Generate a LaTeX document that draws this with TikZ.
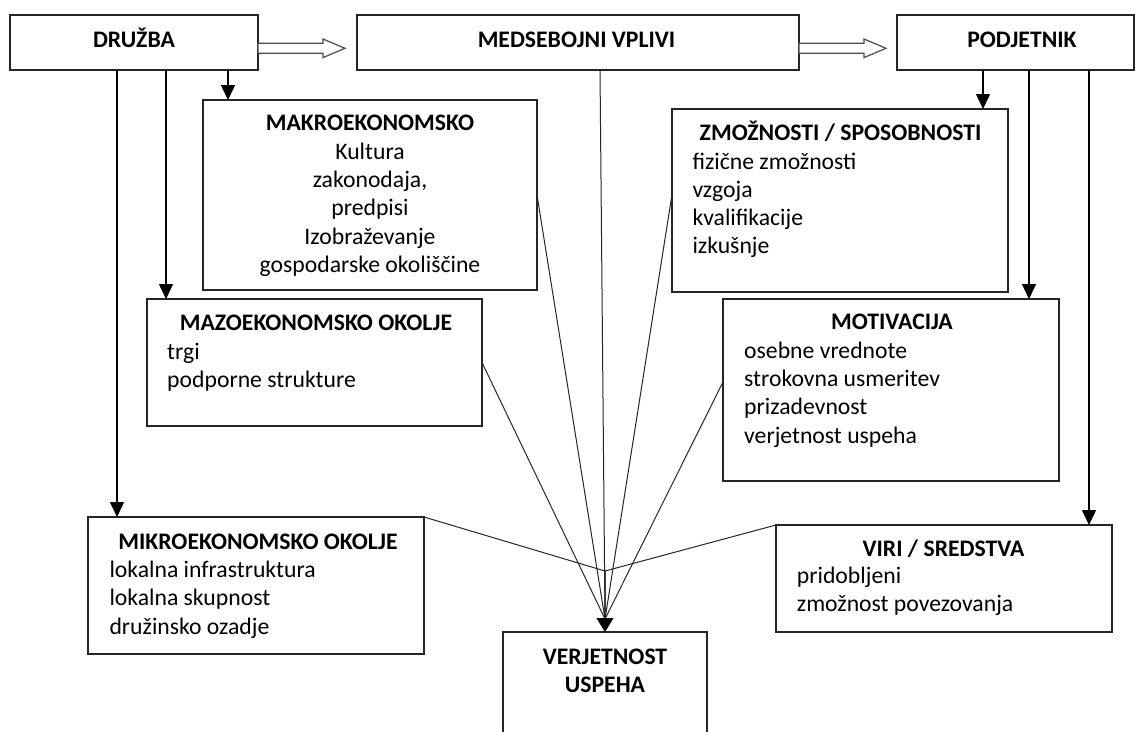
\documentclass[tikz,border=0pt]{standalone}
\usepackage{fontspec}
\setmainfont{Carlito}
\usetikzlibrary{arrows.meta,calc}
\begin{document}
\begin{tikzpicture}[x=1pt,y=-1pt,
  box/.style={draw=black!85, line width=1.3pt, rectangle, inner sep=0pt, outer sep=0pt, anchor=north west},
  head/.style={font=\fontsize{23.7}{28.3}\selectfont\bfseries, anchor=base, inner sep=0pt},
  line/.style={font=\fontsize{23.7}{28.3}\selectfont, anchor=base, inner sep=0pt},
  item/.style={font=\fontsize{23.7}{28.3}\selectfont, anchor=base west, inner sep=0pt},
  feed/.style={line width=1.5pt, -{Triangle[width=14pt,length=15pt]}},
  conv/.style={line width=1pt, draw=black!85},
  convtip/.style={line width=1pt, -{Triangle[width=17pt,length=14pt]}},
  hollow/.style={draw=black!70, line width=1.2pt, fill=white},
]
\useasboundingbox (0,0) rectangle (1135,731);

% boxes
\node[box, minimum width=248pt, minimum height=55pt]  (druzba) at (10,15) {};
\node[box, minimum width=442pt, minimum height=55pt]  (med)    at (357,15) {};
\node[box, minimum width=237pt, minimum height=55pt]  (podj)   at (897,15) {};
\node[box, minimum width=334pt, minimum height=190pt] (makro)  at (203,100) {};
\node[box, minimum width=335pt, minimum height=127pt] (mazo)   at (147,299) {};
\node[box, minimum width=336pt, minimum height=183pt] (zmoz)   at (672,109) {};
\node[box, minimum width=336pt, minimum height=182pt] (motiv)  at (723,299) {};
\node[box, minimum width=336pt, minimum height=137pt] (mikro)  at (88,517) {};
\node[box, minimum width=336pt, minimum height=107pt] (viri)   at (776,525) {};
\node[box, minimum width=204pt, minimum height=110pt] (verj)   at (503,632) {};

% top row texts
\node[head] (t-druzba) at (134,47.3)   {DRUŽBA};
\node[head] (t-med)    at (576.5,47.5) {MEDSEBOJNI VPLIVI};
\node[head] (t-podj)   at (1022,47.7)  {PODJETNIK};

% makroekonomsko
\node[head] (t-makro) at (370,130) {MAKROEKONOMSKO};
\node[line] (makro-1) at (370,159.3) {Kultura};
\node[line] (makro-2) at (370,187.6) {zakonodaja,};
\node[line] (makro-3) at (370,215.9) {predpisi};
\node[line] (makro-4) at (370,244.2) {Izobraževanje};
\node[line] (makro-5) at (370,272.5) {gospodarske okoliščine};

% mazoekonomsko okolje
\node[head] (t-mazo) at (316,330) {MAZOEKONOMSKO OKOLJE};
\node[item] (mazo-1) at (167,359) {trgi};
\node[item] (mazo-2) at (167,387.3) {podporne strukture};

% zmoznosti
\node[head] (t-zmoz) at (840.5,140) {ZMOŽNOSTI / SPOSOBNOSTI};
\node[item] (zmoz-1) at (692.3,169) {fizične zmožnosti};
\node[item] (zmoz-2) at (692.3,197.3) {vzgoja};
\node[item] (zmoz-3) at (692.3,225.6) {kvalifikacije};
\node[item] (zmoz-4) at (692.3,253.9) {izkušnje};

% motivacija
\node[head] (t-motiv) at (892,329.3) {MOTIVACIJA};
\node[item] (motiv-1) at (744,358.3) {osebne vrednote};
\node[item] (motiv-2) at (744,386.6) {strokovna usmeritev};
\node[item] (motiv-3) at (744,414.9) {prizadevnost};
\node[item] (motiv-4) at (744,443.2) {verjetnost uspeha};

% mikroekonomsko okolje
\node[head] (t-mikro) at (258,549.3) {MIKROEKONOMSKO OKOLJE};
\node[item] (mikro-1) at (109.3,577.5) {lokalna infrastruktura};
\node[item] (mikro-2) at (109.3,605.8) {lokalna skupnost};
\node[item] (mikro-3) at (109.3,634.1) {družinsko ozadje};

% viri
\node[head] (t-viri) at (943.5,556) {VIRI / SREDSTVA};
\node[item] (viri-1) at (796.7,583.5) {pridobljeni};
\node[item] (viri-2) at (796.7,611.8) {zmožnost povezovanja};

% result
\node[head] (t-verj1) at (605,664) {VERJETNOST};
\node[head] (t-verj2) at (605,692.7) {USPEHA};

% hollow arrows along the top row
\draw[hollow] ($(druzba.east)+(0,0.8)$) -- ++(65,0) -- ++(0,-4.3) -- ++(22,9.3)
  -- ++(-22,9.3) -- ++(0,-4.3) -- ++(-65,0) -- cycle;
\draw[hollow] ($(med.east)+(0,0.8)$) -- ++(65,0) -- ++(0,-4.3) -- ++(22,9.3)
  -- ++(-22,9.3) -- ++(0,-4.3) -- ++(-65,0) -- cycle;

% feeds from DRUŽBA
\coordinate (d1) at ([xshift=107pt]druzba.south west);
\coordinate (d2) at ([xshift=156pt]druzba.south west);
\coordinate (d3) at ([xshift=218pt]druzba.south west);
\draw[feed] (d1) -- (d1 |- mikro.north);
\draw[feed] (d2) -- (d2 |- mazo.north);
\draw[feed] (d3) -- (d3 |- makro.north);

% feeds from PODJETNIK
\coordinate (p1) at ([xshift=86pt]podj.south west);
\coordinate (p2) at ([xshift=132pt]podj.south west);
\coordinate (p3) at ([xshift=192pt]podj.south west);
\draw[feed] (p1) -- (p1 |- zmoz.north);
\draw[feed] (p2) -- (p2 |- motiv.north);
\draw[feed] (p3) -- (p3 |- viri.north);

% all influences converge on the result
\coordinate (vj) at ($(verj.north)+(0,-61)$);
\coordinate (ah) at ($(verj.north)+(0,-13)$);
\draw[conv] ($(med.south)+(22,0)$) -- (ah);
\draw[conv] (makro.east) -- (ah);
\draw[conv] (mazo.east) -- (ah);
\draw[conv] ($(zmoz.west)+(0,-6)$) -- (ah);
\draw[conv] ($(motiv.west)+(0,-8)$) -- (ah);
\draw[conv] (mikro.north east) -- (vj) -- (ah);
\draw[conv] (viri.north west) -- (vj) -- (ah);
\draw[convtip] ($(verj.north)+(0,-16)$) -- (verj.north);
\end{tikzpicture}
\end{document}
